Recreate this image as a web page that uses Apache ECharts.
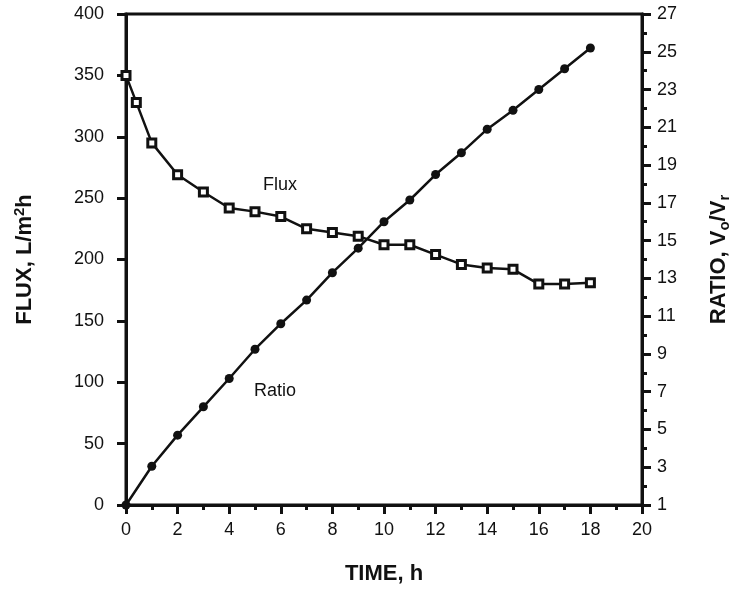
<!DOCTYPE html>
<html>
<head>
<meta charset="utf-8">
<script src="https://cdn.jsdelivr.net/npm/echarts@6/dist/echarts.min.js"></script>
<style>
  html, body { margin: 0; padding: 0; background: #fff; }
  #main { width: 740px; height: 591px; }
</style>
</head>
<body>
<div id="main"></div>
<script>
// flux readings (L/m2h) against time
var fluxTime = [0, 0.4, 1, 2, 3, 4, 5, 6, 7, 8, 9, 10, 11, 12, 13, 14, 15, 16, 17, 18];
var fluxValues = [350, 328, 295, 269, 255, 242, 239, 235, 225, 222, 219, 212, 212, 204, 196, 193, 192, 180, 180, 181];

// volume ratio Vo/Vr against time
var ratioTime = [0, 1, 2, 3, 4, 5, 6, 7, 8, 9, 10, 11, 12, 13, 14, 15, 16, 17, 18];
var ratioValues = [1, 3.05, 4.7, 6.2, 7.7, 9.25, 10.6, 11.85, 13.3, 14.6, 16.0, 17.15, 18.5, 19.65, 20.9, 21.9, 23.0, 24.1, 25.2];

var ink = '#111';
var font = '"Liberation Sans", Arial, sans-serif';

function pairs(xs, ys) {
  return xs.map(function (x, i) { return [x, ys[i]]; });
}

var myChart = echarts.init(document.getElementById('main'));
myChart.setOption({
  backgroundColor: '#fff',
  animation: false,
  textStyle: { fontFamily: font, color: ink },
  grid: {
    left: 126, right: 92, top: 14, bottom: 86,
    show: true, borderColor: ink, borderWidth: 3
  },
  xAxis: {
    type: 'value', min: 0, max: 20, interval: 2,
    name: 'TIME, h', nameLocation: 'middle', nameGap: 58,
    nameTextStyle: { fontSize: 22, fontWeight: 'bold', color: ink, fontFamily: font },
    axisLine: { lineStyle: { color: ink, width: 3 } },
    axisTick: { inside: false, length: 9, lineStyle: { color: ink, width: 3 } },
    minorTick: { show: true, splitNumber: 2, length: 5, lineStyle: { color: ink, width: 3 } },
    axisLabel: { fontSize: 18, color: ink, margin: 16, fontFamily: font },
    splitLine: { show: false }
  },
  yAxis: [
    {
      type: 'value', min: 0, max: 400, interval: 50, position: 'left',
      name: 'FLUX, L/m{sup|2}h', nameLocation: 'middle', nameRotate: 90, nameGap: 88,
      nameTextStyle: {
        fontSize: 22, fontWeight: 'bold', color: ink, fontFamily: font,
        rich: { sup: { fontSize: 15, fontWeight: 'bold', verticalAlign: 'top', padding: [0, 0, 11, 0], fontFamily: font } }
      },
      axisLine: { show: true, lineStyle: { color: ink, width: 3 } },
      axisTick: { show: true, length: 9, lineStyle: { color: ink, width: 3 } },
      axisLabel: { fontSize: 18, color: ink, margin: 22, fontFamily: font },
      splitLine: { show: false }
    },
    {
      type: 'value', min: 1, max: 27, interval: 2, position: 'right',
      name: 'RATIO, V{sub|o}/V{sub|r}', nameLocation: 'middle', nameRotate: 90, nameGap: 64,
      nameTextStyle: {
        fontSize: 22, fontWeight: 'bold', color: ink, fontFamily: font,
        rich: { sub: { fontSize: 15, fontWeight: 'bold', padding: [11, 0, 0, 0], fontFamily: font } }
      },
      axisLine: { show: true, lineStyle: { color: ink, width: 3 } },
      axisTick: { show: true, length: 9, lineStyle: { color: ink, width: 3 } },
      minorTick: { show: true, splitNumber: 2, length: 5, lineStyle: { color: ink, width: 3 } },
      axisLabel: { fontSize: 18, color: ink, margin: 15, fontFamily: font },
      splitLine: { show: false }
    }
  ],
  graphic: [
    { type: 'text', left: 263, top: 176, style: { text: 'Flux', fontSize: 18, fill: ink, fontFamily: font } },
    { type: 'text', left: 254, top: 382, style: { text: 'Ratio', fontSize: 18, fill: ink, fontFamily: font } }
  ],
  series: [
    {
      name: 'Flux', type: 'line', yAxisIndex: 0,
      data: pairs(fluxTime, fluxValues),
      symbol: 'rect', symbolSize: 8,
      lineStyle: { color: ink, width: 2.5 },
      itemStyle: { color: '#fff', borderColor: ink, borderWidth: 3 }
    },
    {
      name: 'Ratio', type: 'line', yAxisIndex: 1,
      data: pairs(ratioTime, ratioValues),
      symbol: 'circle', symbolSize: 9,
      lineStyle: { color: ink, width: 2.5 },
      itemStyle: { color: ink, borderColor: ink, borderWidth: 0 }
    }
  ]
});
</script>
</body>
</html>
